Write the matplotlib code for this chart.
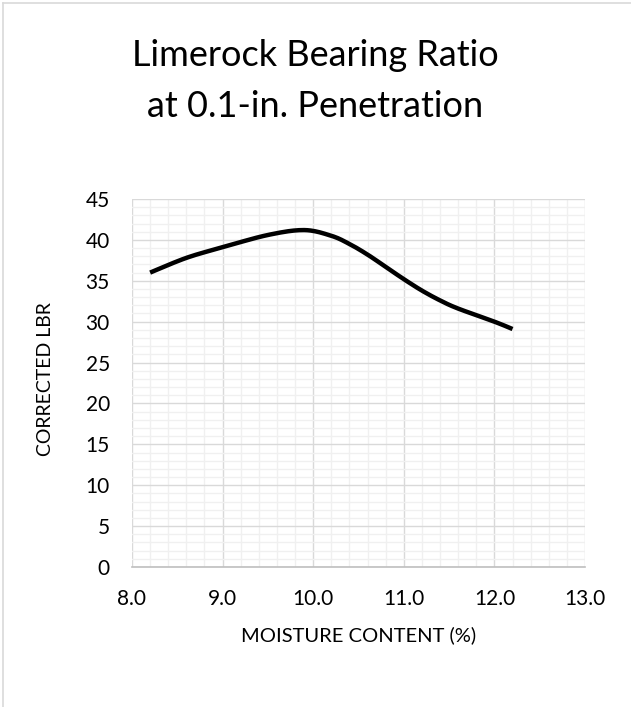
import numpy as np
import matplotlib.pyplot as plt
from matplotlib.ticker import MultipleLocator

# values (moisture %, corrected LBR)
moisture = [8.2, 8.6, 9.0, 9.5, 9.9, 10.2, 10.4, 10.6, 10.8, 11.0, 11.2, 11.4, 11.6, 12.0, 12.2]
lbr = [36.0, 37.8, 39.1, 40.6, 41.2, 40.5, 39.5, 38.2, 36.7, 35.2, 33.8, 32.6, 31.6, 30.0, 29.1]

xticks = [8.0, 9.0, 10.0, 11.0, 12.0, 13.0]
yticks = [0, 5, 10, 15, 20, 25, 30, 35, 40, 45]


def smooth_line(xs, ys, n=20):
    # excel style smoothed line: bezier segments with control points at 1/6 of neighbour chords
    px = np.array(xs, dtype=float)
    py = np.array(ys, dtype=float)
    px = np.concatenate([[px[0]], px, [px[-1]]])
    py = np.concatenate([[py[0]], py, [py[-1]]])
    outx, outy = [], []
    t = np.linspace(0, 1, n)
    for i in range(1, len(px) - 2):
        p0 = np.array([px[i], py[i]])
        p3 = np.array([px[i + 1], py[i + 1]])
        c1 = p0 + (p3 - np.array([px[i - 1], py[i - 1]])) / 6.0
        c2 = p3 - (np.array([px[i + 2], py[i + 2]]) - p0) / 6.0
        b = ((1 - t) ** 3)[:, None] * p0 + (3 * (1 - t) ** 2 * t)[:, None] * c1 \
            + (3 * (1 - t) * t ** 2)[:, None] * c2 + (t ** 3)[:, None] * p3
        outx.extend(b[:, 0])
        outy.extend(b[:, 1])
    return outx, outy


plt.rcParams['font.family'] = ['Lato', 'DejaVu Sans']

fig = plt.figure(figsize=(6.31, 7.07), dpi=100)
ax = fig.add_axes([132 / 631, 1 - 567 / 707, (585 - 132) / 631, (567 - 199) / 707])

sx, sy = smooth_line(moisture, lbr)
ax.plot(sx, sy, color='black', linewidth=3.2, solid_capstyle='butt', zorder=3)

ax.set_xlim(8.0, 13.0)
ax.set_ylim(0, 45)
ax.set_xticks(xticks)
ax.set_xticklabels(['%.1f' % v for v in xticks])
ax.set_yticks(yticks)
ax.xaxis.set_minor_locator(MultipleLocator(0.2))
ax.yaxis.set_minor_locator(MultipleLocator(1))
ax.grid(which='major', color='#d9d9d9', linewidth=1.0)
ax.grid(which='minor', color='#f0f0f0', linewidth=1.0)
ax.set_axisbelow(True)
ax.tick_params(which='both', length=0, labelsize=15, colors='black')
ax.tick_params(axis='x', pad=16)
ax.tick_params(axis='y', pad=16)

for s in ['top', 'right', 'left']:
    ax.spines[s].set_visible(False)
ax.spines['bottom'].set_color('#bfbfbf')
ax.spines['bottom'].set_linewidth(1.2)

ax.set_xlabel('MOISTURE CONTENT (%)', fontsize=14.5)
ax.set_ylabel('CORRECTED LBR', fontsize=14)
ax.xaxis.set_label_coords(0.5, (567 - 626) / 368)
ax.yaxis.set_label_coords((54 - 132) / 453, 0.512)

fig.text(0.5, 1 - 66 / 707, 'Limerock Bearing Ratio', ha='center', va='baseline', fontsize=26)
fig.text(0.5, 1 - 117 / 707, 'at 0.1-in. Penetration', ha='center', va='baseline', fontsize=26)

# chart area border (only top and left edges are inside the picture)
fig.add_artist(plt.Line2D([3 / 631, 3 / 631], [0, 1 - 3 / 707], color='#d9d9d9', linewidth=1.2))
fig.add_artist(plt.Line2D([3 / 631, 1], [1 - 3 / 707, 1 - 3 / 707], color='#d9d9d9', linewidth=1.2))

fig.savefig('out.png', dpi=100)
